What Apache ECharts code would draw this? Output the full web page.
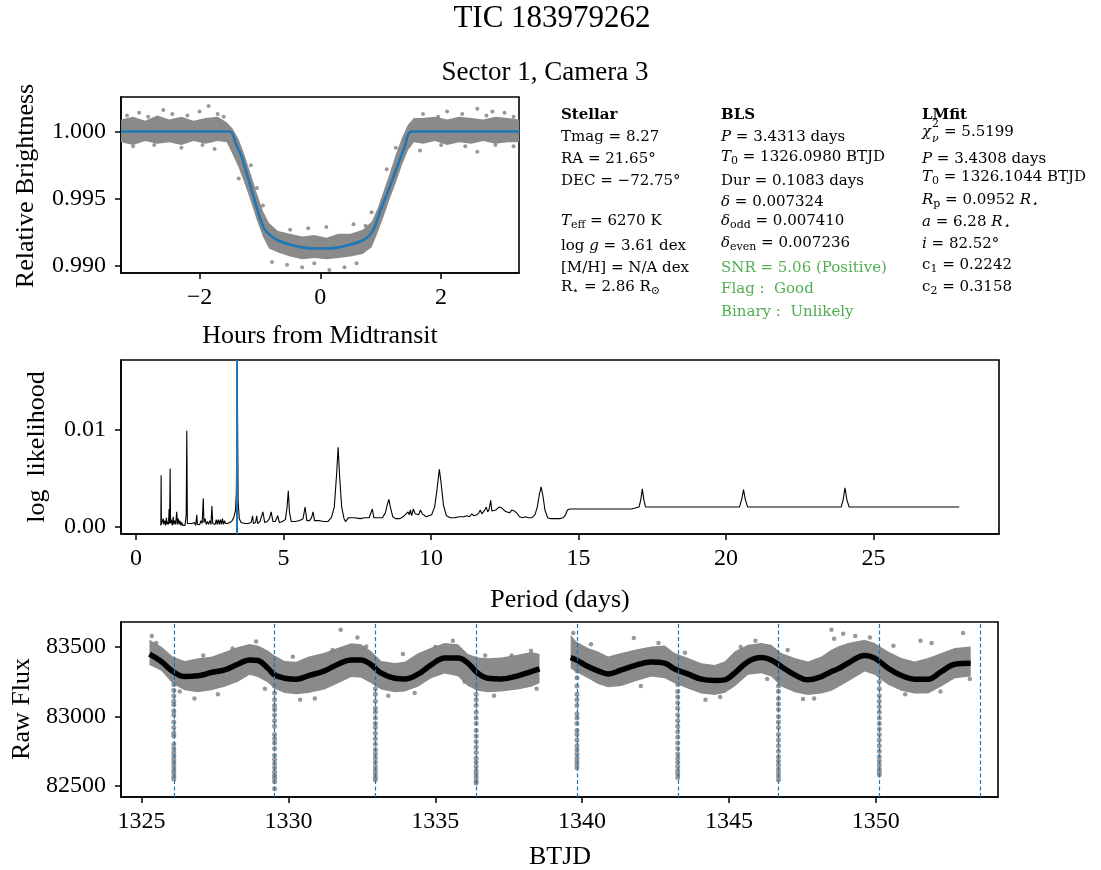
<!DOCTYPE html>
<html><head><meta charset="utf-8">
<script src="https://cdn.jsdelivr.net/npm/echarts@6/dist/echarts.min.js"></script>
<style>html,body{margin:0;padding:0;background:#fff}#c{width:1101px;height:870px}</style>
</head><body><div id="c"></div>
<script>
// ---------------- DATA ----------------
// Top panel: phase-folded transit (hours from midtransit vs relative brightness)
const modelHours = [-3.30,-1.50,-1.40,-1.30,-1.20,-1.10,-1.00,-0.92,-0.86,-0.70,-0.50,-0.25,0.00,0.25,0.50,0.70,0.82,0.90,1.00,1.10,1.20,1.30,1.40,1.51,3.30];
const modelFlux  = [1.0000,1.0000,0.9991,0.9981,0.9966,0.9951,0.9936,0.9927,0.9924,0.9919,0.9916,0.99135,0.9913,0.99135,0.9916,0.9919,0.9923,0.9929,0.9942,0.9953,0.9965,0.9977,0.9989,1.0000,1.0000];
const cloudHours = [-3.30,-3.10,-2.90,-2.70,-2.50,-2.30,-2.10,-1.90,-1.70,-1.55,-1.45,-1.35,-1.25,-1.15,-1.05,-0.95,-0.85,-0.70,-0.50,-0.30,-0.10,0.10,0.30,0.50,0.70,0.85,0.95,1.05,1.15,1.25,1.35,1.45,1.55,1.70,1.90,2.10,2.30,2.50,2.70,2.90,3.10,3.30];
const cloudUpper = [1.0009,1.0011,1.0008,1.0012,1.0009,1.0011,1.0008,1.0010,1.0011,1.0007,1.0002,0.9994,0.9982,0.9968,0.9954,0.9941,0.9932,0.9926,0.9924,0.9922,0.9923,0.9921,0.9924,0.9924,0.9927,0.9933,0.9943,0.9956,0.9969,0.9983,0.9995,1.0005,1.0010,1.0010,1.0011,1.0009,1.0011,1.0010,1.0009,1.0011,1.0010,1.0009];
const cloudLower = [0.9992,0.9990,0.9993,0.9991,0.9992,0.9990,0.9993,0.9991,0.9993,0.9992,0.9983,0.9973,0.9961,0.9948,0.9934,0.9922,0.9913,0.9910,0.9907,0.9905,0.9906,0.9905,0.9906,0.9907,0.9909,0.9914,0.9925,0.9937,0.9950,0.9962,0.9975,0.9986,0.9992,0.9991,0.9993,0.9990,0.9992,0.9991,0.9993,0.9991,0.9992,0.9992];
const foldedOutliers = [[-3.2,1.0012],[-3.0,1.0014],[-2.85,1.0011],[-2.6,1.0016],[-2.45,1.0013],[-2.2,1.0012],[-2.0,1.0015],[-1.85,1.0019],[-1.7,1.0013],[-1.6,1.0011],[1.7,1.0013],[1.95,1.0011],[2.1,1.0015],[2.35,1.0013],[2.6,1.0017],[2.75,1.0012],[2.85,1.0015],[3.05,1.0014],[3.2,1.0011],
  [-3.1,0.9989],[-2.75,0.9990],[-2.3,0.9988],[-1.95,0.9990],[-1.75,0.9987],[1.65,0.9986],[2.0,0.9990],[2.4,0.9989],[2.6,0.9985],[2.9,0.9990],[3.2,0.9989],
  [-1.35,0.9965],[-1.15,0.9975],[-1.05,0.9958],[-0.95,0.9945],[-0.8,0.9903],[-0.55,0.9901],[-0.3,0.9899],[-0.1,0.9902],[0.15,0.9897],[0.4,0.9899],[0.6,0.9902],[0.75,0.9930],[0.85,0.9940],[-0.2,0.9928],[0.1,0.9929],[-0.5,0.9927],[0.55,0.9931],[1.1,0.9972],[1.25,0.9988],[1.4,0.9995]];
const topXTicks = [-2, 0, 2];
const topYTicks = [0.990, 0.995, 1.000];

// Middle panel: BLS periodogram [period (days), log likelihood]
const periodogram = [[0.84,0.0001],[0.85,0.0053],[0.86,0.0002],[0.88,0.0004],[0.90,0.0001],[0.92,0.0008],[0.94,0.0002],[0.97,0.0006],[1.00,0.0001],[1.03,0.0009],[1.05,0.0002],[1.08,0.0005],[1.10,0.0002],[1.12,0.0018],[1.14,0.0003],[1.155,0.0060],[1.17,0.0003],[1.20,0.0007],[1.23,0.0001],[1.26,0.0010],[1.28,0.0002],[1.31,0.0006],[1.34,0.0002],[1.38,0.0015],[1.40,0.0002],[1.43,0.0008],[1.46,0.0002],[1.49,0.0006],[1.52,0.0001],[1.55,0.0004],[1.58,0.0001],[1.62,0.0003],[1.66,0.0001],[1.70,0.0012],[1.72,0.0099],[1.74,0.0003],[1.78,0.0002],[1.82,0.0003],[1.86,0.0001],[1.90,0.0003],[1.94,0.0001],[1.98,0.0004],[2.02,0.0001],[2.06,0.0012],[2.08,0.0002],[2.12,0.0004],[2.16,0.0002],[2.20,0.0006],[2.24,0.0003],[2.28,0.0029],[2.30,0.0004],[2.34,0.0008],[2.38,0.0002],[2.42,0.0005],[2.46,0.0002],[2.50,0.0006],[2.54,0.0002],[2.57,0.0021],[2.60,0.0003],[2.64,0.0004],[2.68,0.0002],[2.72,0.0007],[2.75,0.0002],[2.79,0.0007],[2.82,0.0002],[2.86,0.0007],[2.89,0.0002],[2.93,0.0008],[2.96,0.0002],[3.00,0.0006],[3.03,0.0003],[3.10,0.0003],[3.18,0.0004],[3.26,0.0006],[3.32,0.0010],[3.37,0.0016],[3.40,0.0035],[3.43,0.0164],[3.46,0.0026],[3.50,0.0008],[3.56,0.0004],[3.62,0.0003],
  [3.70,0.0003],[3.80,0.0003],[3.90,0.0004],[3.95,0.0011],[3.98,0.0003],[4.05,0.0004],[4.09,0.0011],[4.12,0.0003],[4.20,0.0005],[4.30,0.0015],[4.36,0.0004],[4.45,0.0005],[4.52,0.0008],[4.58,0.0015],[4.64,0.0005],[4.72,0.0005],[4.80,0.0011],[4.86,0.0004],[4.96,0.0005],[5.06,0.0007],[5.12,0.0020],[5.16,0.0037],[5.20,0.0015],[5.26,0.0005],[5.40,0.0005],[5.55,0.0006],[5.66,0.0008],[5.73,0.0020],[5.79,0.0006],[5.88,0.0006],[5.95,0.0009],[6.00,0.0015],[6.05,0.0006],[6.20,0.0006],[6.35,0.0005],[6.50,0.0005],[6.62,0.0009],[6.72,0.0020],[6.80,0.0055],[6.85,0.0082],[6.90,0.0052],[6.97,0.0020],[7.05,0.0008],[7.10,0.0005],[7.15,0.0005],[7.20,0.0009],[7.40,0.0009],[7.60,0.0008],[7.75,0.0009],[7.90,0.0009],[7.96,0.0011],[8.01,0.0018],[8.06,0.0009],[8.20,0.0009],[8.35,0.0009],[8.45,0.0014],[8.53,0.0024],[8.57,0.0028],[8.62,0.0020],[8.70,0.0010],[8.80,0.0008],[8.95,0.0008],[9.05,0.0010],[9.12,0.0012],[9.18,0.0011],[9.22,0.0015],[9.26,0.0012],[9.30,0.0017],[9.34,0.0011],[9.40,0.0018],[9.46,0.0013],[9.52,0.0015],[9.58,0.0012],[9.64,0.0017],[9.70,0.0013],[9.76,0.0014],[9.84,0.0010],[9.92,0.0011],[10.02,0.0012],[10.12,0.0020],[10.20,0.0038],[10.28,0.0059],[10.34,0.0045],[10.42,0.0022],[10.52,0.0011],[10.65,0.0009],[10.80,0.0009],[10.95,0.0010],[11.10,0.0010],[11.22,0.0011],[11.30,0.0010],[11.38,0.0013],[11.45,0.0011],[11.55,0.0012],[11.62,0.0014],[11.67,0.0017],[11.72,0.0013],[11.80,0.0016],[11.87,0.0020],[11.92,0.0015],[11.97,0.0018],[12.02,0.0027],[12.06,0.0016],[12.12,0.0014],[12.20,0.0017],[12.30,0.0020],[12.40,0.0019],[12.50,0.0016],[12.58,0.0015],[12.66,0.0014],[12.74,0.0017],[12.82,0.0016],[12.90,0.0014],[13.00,0.0010],[13.10,0.0009],[13.20,0.0010],[13.30,0.0009],[13.42,0.0009],[13.52,0.0012],[13.60,0.0020],[13.67,0.0033],[13.73,0.0041],[13.79,0.0032],[13.86,0.0017],[13.95,0.0009],[14.05,0.0008],[14.20,0.0008],[14.35,0.0008],[14.48,0.0009],[14.56,0.0012],[14.62,0.0017],[14.70,0.0018],[15.00,0.0018],[15.30,0.0018],[15.33,0.0019],[15.36,0.0018],[15.75,0.0018],[15.78,0.0019],[15.81,0.0018],[16.50,0.0018],[16.79,0.0018],[16.84,0.0020],[17.05,0.0020],[17.11,0.0028],[17.16,0.0039],[17.21,0.0028],[17.27,0.0020],[20.45,0.0020],[20.53,0.0028],[20.59,0.0038],[20.65,0.0028],[20.73,0.0020],[23.90,0.0020],[23.97,0.0028],[24.03,0.0040],[24.09,0.0028],[24.17,0.0020],[27.90,0.0020]];
const blsPeriod = 3.4313;
const midXTicks = [0, 5, 10, 15, 20, 25];
const midYTicks = [0.00, 0.01];

// Bottom panel: raw light curve
const trendTime = [1325.27,1325.67,1326.07,1326.47,1326.92,1327.37,1327.83,1328.28,1328.68,1328.96,1329.30,1329.53,1329.87,1330.27,1330.67,1331.23,1331.69,1332.14,1332.48,1332.82,1333.16,1333.62,1333.96,1334.41,1334.86,1335.32,1335.77,1336.11,1336.45,1336.79,1337.25,1337.81,1338.27,1338.55,
  1339.61,1339.80,1340.20,1340.54,1340.88,1341.34,1341.79,1342.36,1342.81,1343.15,1343.61,1344.06,1344.51,1344.85,1345.19,1345.65,1346.10,1346.44,1346.78,1347.24,1347.69,1348.15,1348.49,1348.71,1349.05,1349.62,1349.96,1350.42,1350.87,1351.32,1351.78,1352.23,1352.69,1353.23];
const trendFlux = [83449,83396,83324,83288,83293,83317,83336,83377,83408,83404,83348,83300,83276,83269,83293,83329,83377,83408,83408,83372,83312,83276,83271,83305,83372,83421,83421,83385,83312,83276,83271,83293,83324,83343,
  83425,83408,83360,83329,83307,83336,83367,83392,83384,83343,83305,83269,83259,83264,83312,83396,83425,83408,83360,83300,83264,83288,83324,83343,83384,83440,83421,83348,83295,83269,83269,83324,83377,83384];
const rawUpper = [83553,83505,83430,83400,83420,83430,83465,83500,83522,83512,83475,83440,83400,83395,83430,83460,83495,83528,83520,83470,83400,83385,83395,83455,83495,83530,83520,83450,83425,83420,83425,83445,83465,83450,
  83589,83540,83493,83469,83433,83457,83481,83505,83512,83457,83421,83384,83372,83396,83469,83517,83529,83517,83457,83421,83396,83433,83481,83505,83529,83553,83529,83469,83421,83396,83421,83457,83493,83505];
const rawLower = [83372,83330,83235,83190,83175,83190,83215,83250,83300,83285,83245,83200,83170,83160,83170,83195,83240,83285,83280,83240,83195,83175,83180,83215,83275,83310,83290,83220,83185,83175,83180,83195,83215,83240,
  83348,83320,83276,83235,83210,83220,83252,83288,83276,83240,83200,83165,83155,83170,83216,83300,83312,83288,83216,83175,83155,83165,83185,83210,83252,83324,83300,83228,83185,83165,83165,83216,83276,83288];
const rawOutliers = [[1325.35,83580],[1325.5,83530],[1326.3,83180],[1326.8,83130],[1327.1,83440],[1327.6,83160],[1328.1,83490],[1328.9,83540],[1329.2,83200],[1330.15,83430],[1330.4,83120],[1330.9,83130],[1331.5,83480],[1331.78,83625],[1332.35,83570],[1332.65,83505],[1333.4,83150],[1333.9,83450],[1334.3,83170],[1335.0,83500],[1335.6,83545],[1336.0,83250],[1336.7,83440],[1337.0,83150],[1337.6,83440],[1338.26,83474],[1338.45,83200],
  [1339.7,83601],[1340.3,83520],[1341.76,83565],[1342.0,83220],[1342.6,83530],[1343.5,83460],[1344.2,83120],[1344.7,83140],[1345.4,83500],[1345.9,83545],[1346.3,83270],[1347.0,83480],[1347.52,83127],[1347.9,83130],[1348.49,83625],[1348.58,83560],[1348.89,83596],[1349.3,83580],[1349.8,83570],[1350.6,83510],[1351.0,83160],[1351.52,83546],[1351.9,83530],[1352.2,83180],[1352.97,83601],[1353.2,83271]];
const transitTimes = [1326.098,1329.529,1332.961,1336.392,1339.824,1343.255,1346.686,1350.118,1353.549];
const transitFlux = [
  [83230,83190,83150,83110,83085,83040,83010,82960,82920,82880,82860,82800,82770,82740,82715,82690,82665,82640,82615,82595,82570,82550],
  [83220,83170,83120,83080,83050,83010,82970,82930,82870,82840,82810,82770,82720,82690,82660,82630,82600,82575,82555,82530,82480],
  [83200,83160,83110,83060,83030,82990,82950,82920,82880,82840,82800,82760,82730,82700,82670,82640,82615,82590,82565,82545],
  [83210,83160,83120,83080,83030,82990,82950,82900,82860,82820,82780,82740,82700,82670,82640,82610,82585,82560,82535,82520],
  [83330,83280,83220,83160,83120,83080,83020,82990,82950,82900,82870,82830,82790,82760,82730,82700,82675,82650,82630],
  [83230,83180,83140,83100,83060,83010,82970,82930,82890,82850,82810,82770,82730,82700,82670,82640,82610,82585,82560],
  [83270,83220,83180,83130,83090,83050,83000,82960,82920,82870,82830,82790,82750,82710,82680,82650,82620,82595,82570,82545],
  [83250,83200,83150,83110,83070,83030,82990,82950,82910,82870,82830,82790,82750,82710,82680,82650,82620,82600,82580]
];
const botXTicks = [1325, 1330, 1335, 1340, 1345, 1350];
const botYTicks = [82500, 83000, 83500];

// ---------------- CHART ----------------
const SERIF = 'Liberation Serif';
const INFO = 'DejaVu Serif';
const BLUE = '#1f77b4', GRAY = '#808080', GREEN = '#52ad52';
const chart = echarts.init(document.getElementById('c'), null, {renderer: 'canvas'});

function xAx(gi, min, max, ticks, fmt) {
  return {type: 'value', gridIndex: gi, min: min, max: max,
    axisLine: {show: true, onZero: false, lineStyle: {color: '#000', width: 1.6}},
    axisTick: {show: true, inside: false, length: 6, customValues: ticks, lineStyle: {color: '#000', width: 1.5}},
    axisLabel: {customValues: ticks, fontFamily: SERIF, fontSize: 24, color: '#000', margin: 13, formatter: fmt},
    splitLine: {show: false}};
}
function yAx(gi, min, max, ticks, fmt) {
  return {type: 'value', gridIndex: gi, min: min, max: max,
    axisLine: {show: true, onZero: false, lineStyle: {color: '#000', width: 1.6}},
    axisTick: {show: true, inside: false, length: 6, customValues: ticks, lineStyle: {color: '#000', width: 1.5}},
    axisLabel: {customValues: ticks, fontFamily: SERIF, fontSize: 24, color: '#000', margin: 15, formatter: fmt},
    splitLine: {show: false}};
}
const gridStyle = {show: true, borderColor: '#000', borderWidth: 1.6, backgroundColor: 'transparent'};

// split the light curve into its two orbits (data gap near BTJD 1339)
function splitSegments(t, arrs) {
  const segs = []; let cur = null;
  for (let i = 0; i < t.length; i++) {
    if (!cur || t[i] - t[i - 1] > 0.9) { cur = {t: []}; arrs.forEach((a, k) => cur['a' + k] = []); segs.push(cur); }
    cur.t.push(t[i]); arrs.forEach((a, k) => cur['a' + k].push(a[i]));
  }
  return segs;
}
function bandSeries(xi, segs, color) {
  return {type: 'custom', xAxisIndex: xi, yAxisIndex: xi, silent: true, z: 1, clip: true,
    data: segs.map(s => [s.t[0], s.a0[0]]),
    renderItem: function (params, api) {
      const s = segs[params.dataIndex]; const pts = [];
      for (let k = 0; k < s.t.length; k++) pts.push(api.coord([s.t[k], s.a0[k]]));
      for (let k = s.t.length - 1; k >= 0; k--) pts.push(api.coord([s.t[k], s.a1[k]]));
      return {type: 'polygon', shape: {points: pts}, style: {fill: color}};
    }};
}

const topBand = [{t: cloudHours, a0: cloudUpper, a1: cloudLower}];
const rawSegs = splitSegments(trendTime, [rawUpper, rawLower, trendFlux]);

const transitPoints = [];
transitFlux.forEach((arr, k) => arr.forEach(f => transitPoints.push([transitTimes[k], f])));

const series = [
  bandSeries(0, topBand, '#8a8a8a'),
  {type: 'scatter', xAxisIndex: 0, yAxisIndex: 0, data: foldedOutliers, symbolSize: 4, itemStyle: {color: GRAY}, z: 2, silent: true},
  {type: 'line', xAxisIndex: 0, yAxisIndex: 0, data: modelHours.map((h, i) => [h, modelFlux[i]]), showSymbol: false, smooth: 0.3,
    lineStyle: {color: BLUE, width: 2.6}, z: 3, silent: true},
  {type: 'line', xAxisIndex: 1, yAxisIndex: 1, data: periodogram, showSymbol: false, lineStyle: {color: '#000', width: 1.1}, z: 2, silent: true,
    markLine: {silent: true, symbol: ['none', 'none'], label: {show: false}, lineStyle: {color: BLUE, width: 2, type: 'solid'}, data: [{xAxis: blsPeriod}], animation: false}},
  bandSeries(2, rawSegs, '#8a8a8a'),
  {type: 'scatter', xAxisIndex: 2, yAxisIndex: 2, data: rawOutliers, symbolSize: 4.5, itemStyle: {color: GRAY}, z: 2, silent: true},
  {type: 'scatter', xAxisIndex: 2, yAxisIndex: 2, data: transitPoints, symbolSize: 5, itemStyle: {color: GRAY}, z: 2, silent: true}
];
rawSegs.forEach(s => series.push({type: 'line', xAxisIndex: 2, yAxisIndex: 2, data: s.t.map((t, i) => [t, s.a2[i]]), showSymbol: false, smooth: 0.4,
  lineStyle: {color: '#000', width: 5.5}, z: 3, silent: true}));
series.push({type: 'line', xAxisIndex: 2, yAxisIndex: 2, data: [], z: 5, silent: true,
  markLine: {silent: true, symbol: ['none', 'none'], label: {show: false}, lineStyle: {color: BLUE, width: 1.2, type: [4, 2.5]},
    data: transitTimes.map(t => ({xAxis: t})), animation: false}});

// Info text panel
const rich = {
  n: {fontFamily: INFO, fontSize: 15, fill: '#000', lineHeight: 20},
  i: {fontFamily: INFO, fontSize: 15, fontStyle: 'italic', fill: '#000', lineHeight: 20},
  b: {fontFamily: INFO, fontSize: 15, fontWeight: 'bold', fill: '#000', lineHeight: 20},
  sub: {fontFamily: INFO, fontSize: 11, fill: '#000', lineHeight: 10, verticalAlign: 'bottom'},
  isub: {fontFamily: INFO, fontSize: 11, fontStyle: 'italic', fill: '#000', lineHeight: 10, verticalAlign: 'bottom'},
  g: {fontFamily: INFO, fontSize: 15, fill: GREEN, lineHeight: 20}
};
const infoLines = [
  [561, 115, [['b', 'Stellar']]],
  [561, 137, [['n', 'Tmag = 8.27']]],
  [561, 159, [['n', 'RA = 21.65°']]],
  [561, 181, [['n', 'DEC = −72.75°']]],
  [561, 221, [['i', 'T'], ['sub', 'eff'], ['n', ' = 6270 K']]],
  [561, 246, [['n', 'log '], ['i', 'g'], ['n', ' = 3.61 dex']]],
  [561, 268, [['n', '[M/H] = N/A dex']]],
  [561, 287, [['n', 'R'], ['sub', '⋆'], ['n', ' = 2.86 R'], ['sub', '⊙']]],
  [721, 115, [['b', 'BLS']]],
  [721, 137, [['i', 'P'], ['n', ' = 3.4313 days']]],
  [721, 157, [['i', 'T'], ['sub', '0'], ['n', ' = 1326.0980 BTJD']]],
  [721, 181, [['n', 'Dur = 0.1083 days']]],
  [721, 202, [['i', 'δ'], ['n', ' = 0.007324']]],
  [721, 221, [['i', 'δ'], ['sub', 'odd'], ['n', ' = 0.007410']]],
  [721, 243, [['i', 'δ'], ['sub', 'even'], ['n', ' = 0.007236']]],
  [721, 268, [['g', 'SNR = 5.06 (Positive)']]],
  [721, 289, [['g', 'Flag :  Good']]],
  [721, 312, [['g', 'Binary :  Unlikely']]],
  [922, 115, [['b', 'LMfit']]],
  [944, 132, [['n', '= 5.5199']]],
  [922, 159, [['i', 'P'], ['n', ' = 3.4308 days']]],
  [922, 177, [['i', 'T'], ['sub', '0'], ['n', ' = 1326.1044 BTJD']]],
  [922, 200, [['i', 'R'], ['sub', 'p'], ['n', ' = 0.0952 '], ['i', 'R'], ['isub', '⋆']]],
  [922, 222, [['i', 'a'], ['n', ' = 6.28 '], ['i', 'R'], ['isub', '⋆']]],
  [922, 244, [['i', 'i'], ['n', ' = 82.52°']]],
  [922, 265, [['n', 'c'], ['sub', '1'], ['n', ' = 0.2242']]],
  [922, 287, [['n', 'c'], ['sub', '2'], ['n', ' = 0.3158']]]
];
const graphics = infoLines.map(l => ({type: 'text', x: l[0], y: l[1], silent: true,
  style: {text: l[2].map(p => '{' + p[0] + '|' + p[1] + '}').join(''), rich: rich, textAlign: 'left', textVerticalAlign: 'middle'}}));
// chi^2_nu
graphics.push({type: 'text', x: 922, y: 132, silent: true, style: {text: 'χ', fontFamily: INFO, fontSize: 15, fontStyle: 'italic', fill: '#000', textVerticalAlign: 'middle'}});
graphics.push({type: 'text', x: 932, y: 124, silent: true, style: {text: '2', fontFamily: INFO, fontSize: 11, fill: '#000', textVerticalAlign: 'middle'}});
graphics.push({type: 'text', x: 932, y: 139, silent: true, style: {text: 'ν', fontFamily: INFO, fontSize: 11, fontStyle: 'italic', fill: '#000', textVerticalAlign: 'middle'}});

function label(text, x, y, size, rot) {
  return {type: 'text', x: x, y: y, rotation: rot || 0, silent: true,
    style: {text: text, fontFamily: SERIF, fontSize: size, fill: '#000', textAlign: 'center', textVerticalAlign: 'middle'}};
}
graphics.push(label('TIC 183979262', 552, 19, 31));
graphics.push(label('Sector 1, Camera 3', 545, 73, 27));
graphics.push(label('Relative Brightness', 26, 186, 26, Math.PI / 2));
graphics.push(label('Hours from Midtransit', 320, 336, 26));
graphics.push(label('log  likelihood', 37, 447, 26, Math.PI / 2));
graphics.push(label('Period (days)', 560, 600, 26));
graphics.push(label('Raw Flux', 22, 709, 26, Math.PI / 2));
graphics.push(label('BTJD', 560, 857, 26));

chart.setOption({
  animation: false,
  backgroundColor: '#fff',
  grid: [
    Object.assign({left: 121, top: 97, width: 398, height: 176}, gridStyle),
    Object.assign({left: 121, top: 360, width: 878, height: 174}, gridStyle),
    Object.assign({left: 121, top: 622, width: 877, height: 175}, gridStyle)
  ],
  xAxis: [
    xAx(0, -3.30, 3.29, topXTicks, v => (v < 0 ? '\u2212' : '') + Math.abs(v)),
    xAx(1, -0.51, 29.25, midXTicks, v => String(v)),
    xAx(2, 1324.30, 1354.16, botXTicks, v => String(v))
  ],
  yAxis: [
    yAx(0, 0.98948, 1.00257, topYTicks, v => v.toFixed(3)),
    yAx(1, -0.00079, 0.01724, midYTicks, v => v.toFixed(2)),
    yAx(2, 82420, 83681, botYTicks, v => String(v))
  ],
  series: series,
  graphic: graphics
});
</script></body></html>
